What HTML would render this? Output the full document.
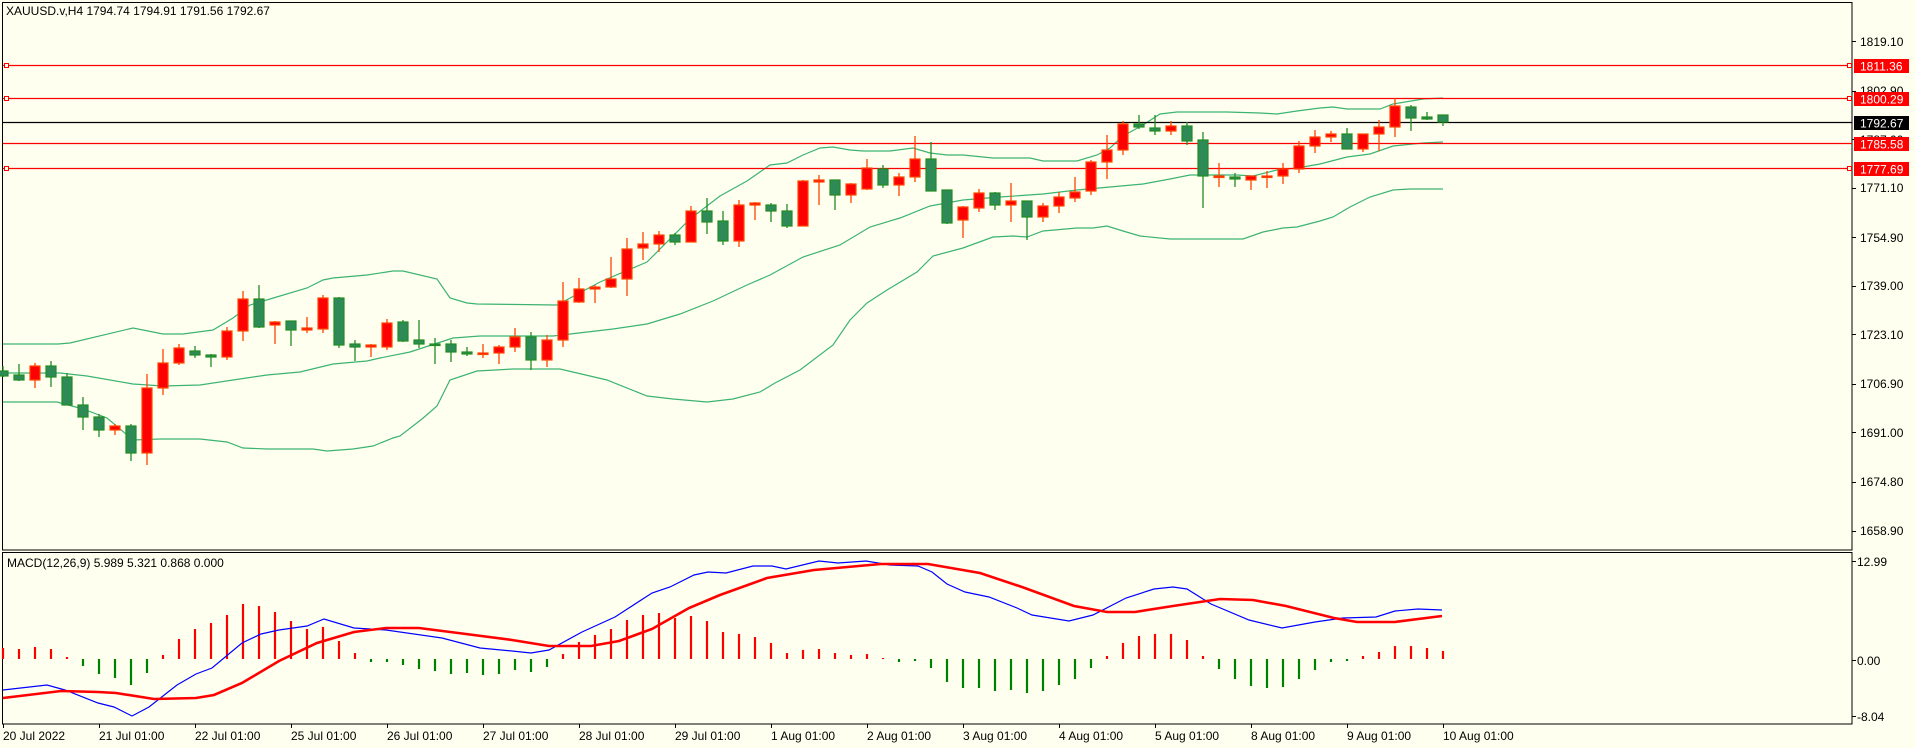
<!DOCTYPE html>
<html><head><meta charset="utf-8"><style>
html,body{margin:0;padding:0;background:#FFFFF0;}
svg{display:block;}
text{font-family:"Liberation Sans",sans-serif;font-size:12px;fill:#000;}
</style></head><body>
<svg width="1916" height="748" viewBox="0 0 1916 748" xmlns="http://www.w3.org/2000/svg">
<rect x="0" y="0" width="1916" height="748" fill="#FFFFF0"/>
<!-- panes -->
<rect x="2.5" y="2.5" width="1849.5" height="547.5" fill="none" stroke="#000" stroke-width="1"/>
<rect x="2.5" y="552.5" width="1849.5" height="171.5" fill="none" stroke="#000" stroke-width="1"/>

<!-- bands -->
<g fill="none" stroke="#3CB371" stroke-width="1.2">
<polyline points="3,344 58,344 70,343 133,328 163,334 183,334 213,330 233,318 250,305 270,299 307,288 323,280 333,278 367,275 393,271 403,271 437,279 450,298 467,303 477,304 557,305 600,282 647,262 690,219 720,196 747,181 770,165 787,163 803,155 820,148 833,147 850,150 863,151 890,151 913,148 930,153 947,155 963,155 993,158 1030,158 1043,161 1077,161 1097,155 1110,148 1123,136 1143,125 1160,114 1177,112 1227,112 1260,113 1277,114 1297,111 1320,108 1333,107 1347,109 1380,109 1393,104 1423,99 1443,98"/>
<polyline points="3,373 60,373 87,376 133,384 163,386 200,385 233,380 267,375 300,372 333,364 367,361 380,358 410,352 453,338 480,336 553,336 613,329 647,324 680,314 713,301 747,285 770,275 803,257 840,245 870,227 900,218 930,206 963,200 1000,197 1043,194 1077,190 1110,187 1143,184 1170,179 1190,175 1237,175 1253,176 1277,170 1297,168 1320,164 1347,157 1370,154 1393,146 1423,143 1443,142"/>
<polyline points="3,402 57,402 83,409 107,418 133,440 160,439 200,439 227,442 243,448 267,449 313,449 327,451 353,449 373,446 393,438 400,436 422,419 437,406 450,380 477,371 513,369 560,369 607,380 647,396 673,399 707,402 733,399 760,392 775,383 800,370 833,345 850,320 867,303 887,290 917,272 933,256 963,248 993,237 1013,236 1027,237 1043,231 1077,228 1093,228 1107,226 1123,231 1140,236 1170,239 1243,239 1263,232 1283,228 1297,227 1320,221 1333,217 1350,207 1370,197 1393,190 1410,189 1443,189"/>
</g>

<!-- horizontal levels -->
<g stroke="#FF0000" stroke-width="1.3">
<line x1="3" y1="65.5" x2="1852" y2="65.5"/>
<line x1="3" y1="98.5" x2="1852" y2="98.5"/>
<line x1="3" y1="143.5" x2="1852" y2="143.5"/>
<line x1="3" y1="168.5" x2="1852" y2="168.5"/>
</g>
<line x1="3" y1="122.5" x2="1852" y2="122.5" stroke="#000" stroke-width="1.3"/>
<g fill="#FFFFF0" stroke="#FF0000" stroke-width="1">
<rect x="4.5" y="63.5" width="4" height="4"/><rect x="1847.5" y="63.5" width="4" height="4"/>
<rect x="4.5" y="96.5" width="4" height="4"/><rect x="1847.5" y="96.5" width="4" height="4"/>
<rect x="4.5" y="166.5" width="4" height="4"/><rect x="1847.5" y="166.5" width="4" height="4"/>
</g>

<!-- candles -->
<g id="c">
<g stroke="#228B22" stroke-width="1.3">
<path d="M3 366V377M19 364V381M51 361V387M67 373V405M83 397V430M99 414V437M131 424V461M195 346V358M211 354V367M259 285V328M291 321V346M339 297V348M355 340V361M403 320V342M419 320V348M435 338V364M451 340V362M467 347V356M531 332V370M675 233V245M707 198V234M723 211V245M771 203V222M787 204V228M835 180V210M883 165V188M931 142V191M947 190V224M995 192V210M1027 201V240M1139 115V129M1155 115V135M1187 122V145M1203 132V208M1235 173V187M1347 128V149M1411 105V131M1427 112V120M1443 115V126"/>
</g>
<g stroke="#FF4500" stroke-width="1.3">
<path d="M35 363V388M115 424V435M147 374V465M163 349V395M179 344V365M227 327V360M243 291V341M275 321V344M307 317V333M323 295V333M371 344V357M387 319V350M483 344V358M499 345V364M515 328V352M547 335V367M563 282V347M579 278V303M595 285V303M611 257V288M627 238V296M643 232V260M659 231V252M691 206V242M739 200V247M755 202V220M803 180V226M819 175V205M851 183V203M867 159V190M899 173V196M915 136V182M963 206V238M979 189V212M1011 183V222M1043 203V222M1059 192V213M1075 177V202M1091 160V195M1107 135V179M1123 121V155M1171 121V135M1219 163V187M1251 176V190M1267 171V188M1283 163V184M1299 141V173M1315 130V153M1331 131V142M1363 134V152M1379 120V151M1395 98V137"/>
</g>
<g fill="#2E8B57" stroke="#228B22" stroke-width="1.2">
<rect x="-2" y="371" width="10" height="5"/>
<rect x="14" y="375" width="10" height="5"/>
<rect x="46" y="366" width="10" height="11"/>
<rect x="62" y="377" width="10" height="28"/>
<rect x="78" y="405" width="10" height="12"/>
<rect x="94" y="417" width="10" height="13"/>
<rect x="126" y="426" width="10" height="27"/>
<rect x="190" y="351" width="10" height="4"/>
<rect x="206" y="355" width="10" height="2"/>
<rect x="254" y="299" width="10" height="28"/>
<rect x="286" y="321" width="10" height="9"/>
<rect x="334" y="298" width="10" height="47"/>
<rect x="350" y="344" width="10" height="3"/>
<rect x="398" y="322" width="10" height="19"/>
<rect x="414" y="340" width="10" height="4"/>
<rect x="430" y="344" width="10" height="1.5"/>
<rect x="446" y="344" width="10" height="8"/>
<rect x="462" y="352" width="10" height="2"/>
<rect x="526" y="337" width="10" height="23"/>
<rect x="670" y="235" width="10" height="7"/>
<rect x="702" y="211" width="10" height="11"/>
<rect x="718" y="221" width="10" height="20"/>
<rect x="766" y="205" width="10" height="6"/>
<rect x="782" y="211" width="10" height="15"/>
<rect x="830" y="180" width="10" height="15"/>
<rect x="878" y="169" width="10" height="16"/>
<rect x="926" y="159" width="10" height="32"/>
<rect x="942" y="190" width="10" height="33"/>
<rect x="990" y="193" width="10" height="12"/>
<rect x="1022" y="201" width="10" height="16"/>
<rect x="1134" y="124" width="10" height="3"/>
<rect x="1150" y="128" width="10" height="3"/>
<rect x="1182" y="126" width="10" height="15"/>
<rect x="1198" y="140" width="10" height="36"/>
<rect x="1230" y="177" width="10" height="2"/>
<rect x="1342" y="134" width="10" height="15"/>
<rect x="1406" y="107" width="10" height="11"/>
<rect x="1422" y="117" width="10" height="2"/>
<rect x="1438" y="115" width="10" height="7"/>
</g>
<g fill="#FF0000" stroke="#FF4500" stroke-width="1.2">
<rect x="30" y="366" width="10" height="14"/>
<rect x="110" y="426" width="10" height="4"/>
<rect x="142" y="388" width="10" height="65"/>
<rect x="158" y="363" width="10" height="25"/>
<rect x="174" y="348" width="10" height="15"/>
<rect x="222" y="331" width="10" height="26"/>
<rect x="238" y="299" width="10" height="32"/>
<rect x="270" y="322" width="10" height="3"/>
<rect x="302" y="328" width="10" height="2"/>
<rect x="318" y="298" width="10" height="31"/>
<rect x="366" y="345" width="10" height="2"/>
<rect x="382" y="323" width="10" height="24"/>
<rect x="478" y="353" width="10" height="1.5"/>
<rect x="494" y="347" width="10" height="6"/>
<rect x="510" y="337" width="10" height="10"/>
<rect x="542" y="340" width="10" height="20"/>
<rect x="558" y="301" width="10" height="39"/>
<rect x="574" y="289" width="10" height="13"/>
<rect x="590" y="287" width="10" height="2"/>
<rect x="606" y="279" width="10" height="8"/>
<rect x="622" y="249" width="10" height="30"/>
<rect x="638" y="244" width="10" height="4"/>
<rect x="654" y="235" width="10" height="9"/>
<rect x="686" y="211" width="10" height="31"/>
<rect x="734" y="205" width="10" height="36"/>
<rect x="750" y="203" width="10" height="2"/>
<rect x="798" y="181" width="10" height="45"/>
<rect x="814" y="180" width="10" height="2"/>
<rect x="846" y="184" width="10" height="11"/>
<rect x="862" y="168" width="10" height="21"/>
<rect x="894" y="177" width="10" height="8"/>
<rect x="910" y="159" width="10" height="18"/>
<rect x="958" y="207" width="10" height="13"/>
<rect x="974" y="193" width="10" height="15"/>
<rect x="1006" y="201" width="10" height="4"/>
<rect x="1038" y="206" width="10" height="11"/>
<rect x="1054" y="197" width="10" height="9"/>
<rect x="1070" y="192" width="10" height="6"/>
<rect x="1086" y="162" width="10" height="29"/>
<rect x="1102" y="150" width="10" height="12"/>
<rect x="1118" y="124" width="10" height="26"/>
<rect x="1166" y="126" width="10" height="5"/>
<rect x="1214" y="176" width="10" height="1.5"/>
<rect x="1246" y="176" width="10" height="4"/>
<rect x="1262" y="176" width="10" height="1.5"/>
<rect x="1278" y="169" width="10" height="7"/>
<rect x="1294" y="146" width="10" height="23"/>
<rect x="1310" y="137" width="10" height="9"/>
<rect x="1326" y="134" width="10" height="3"/>
<rect x="1358" y="134" width="10" height="15"/>
<rect x="1374" y="127" width="10" height="7"/>
<rect x="1390" y="106" width="10" height="21"/>
</g>
</g>

<!-- MACD histogram -->
<path stroke="#FF0000" stroke-width="2.2" fill="none" d="M3 659V648M19 659V649M35 659V647M51 659V649M67 659V657M163 659V655M179 659V639M195 659V629M211 659V623M227 659V615M243 659V604M259 659V606M275 659V612M291 659V621M307 659V629M323 659V627M339 659V641M355 659V653M563 659V654M579 659V642M595 659V635M611 659V629M627 659V620M643 659V615M659 659V613M675 659V618M691 659V616M707 659V621M723 659V632M739 659V634M755 659V637M771 659V643M787 659V653M803 659V650M819 659V649M835 659V653M851 659V655M867 659V654M883 659V658M1107 659V656M1123 659V643M1139 659V636M1155 659V634M1171 659V634M1187 659V640M1203 659V656M1363 659V656M1379 659V652M1395 659V646M1411 659V646M1427 659V648M1443 659V651"/>
<path stroke="#008000" stroke-width="2.2" fill="none" d="M83 659V666M99 659V674M115 659V678M131 659V685M147 659V673M371 659V662M387 659V662M403 659V665M419 659V669M435 659V671M451 659V674M467 659V673M483 659V675M499 659V674M515 659V670M531 659V672M547 659V667M899 659V662M915 659V661M931 659V668M947 659V682M963 659V688M979 659V688M995 659V691M1011 659V690M1027 659V693M1043 659V691M1059 659V685M1075 659V679M1091 659V668M1219 659V669M1235 659V679M1251 659V686M1267 659V688M1283 659V687M1299 659V679M1315 659V670M1331 659V662M1347 659V661"/>
<!-- MACD lines -->
<polyline fill="none" stroke="#0000FF" stroke-width="1.2" points="3,690 47,685 65,690 98,703 114,707 132,716 149,707 177,685 196,674 212,668 242,643 261,634 279,630 307,626 324,619 354,628 386,630 442,638 480,648 512,651 531,653 549,650 582,632 615,617 652,593 670,587 694,575 708,572 726,573 753,566 772,566 786,569 819,561 838,563 866,561 890,565 918,566 932,572 947,584 965,592 989,597 1017,608 1032,615 1069,621 1093,615 1126,598 1154,589 1173,587 1187,589 1211,604 1249,620 1282,628 1315,622 1343,618 1376,617 1395,611 1418,609 1442,610"/>
<polyline fill="none" stroke="#FF0000" stroke-width="2.6" points="3,698 28,695 61,691 98,692 116,693 154,699 196,698 214,695 242,683 279,661 317,643 354,632 386,628 419,628 466,634 512,640 549,646 591,646 619,641 652,629 689,608 720,595 767,578 814,570 881,564 928,564 980,573 1022,587 1074,606 1107,612 1135,612 1173,606 1220,599 1253,600 1286,606 1334,618 1357,622 1395,622 1442,616"/>

<!-- price axis -->
<g stroke="#000" stroke-width="1">
<path d="M1852 41.5h4M1852 91.5h4M1852 139.5h4M1852 188.5h4M1852 237.5h4M1852 286.5h4M1852 334.5h4M1852 384.5h4M1852 432.5h4M1852 482.5h4M1852 531.5h4M1852 561.5h4M1852 660.5h4M1852 716.5h4"/>
</g>
<g>
<text x="1860" y="46">1819.10</text>
<text x="1860" y="95">1802.90</text>
<text x="1860" y="144">1787.00</text>
<text x="1860" y="192">1771.10</text>
<text x="1860" y="242">1754.90</text>
<text x="1860" y="290">1739.00</text>
<text x="1860" y="339">1723.10</text>
<text x="1860" y="388">1706.90</text>
<text x="1860" y="437">1691.00</text>
<text x="1860" y="486">1674.80</text>
<text x="1860" y="535">1658.90</text>
<text x="1857" y="566">12.99</text>
<text x="1857" y="665">0.00</text>
<text x="1857" y="721">-8.04</text>
</g>
<rect x="1854" y="59" width="55" height="14" fill="#FF0000"/>
<text x="1860" y="70.5" style="fill:#fff">1811.36</text>
<rect x="1854" y="92" width="55" height="14" fill="#FF0000"/>
<text x="1860" y="103.5" style="fill:#fff">1800.29</text>
<rect x="1854" y="116" width="55" height="14" fill="#000"/>
<text x="1860" y="127.5" style="fill:#fff">1792.67</text>
<rect x="1854" y="137" width="55" height="14" fill="#FF0000"/>
<text x="1860" y="148.5" style="fill:#fff">1785.58</text>
<rect x="1854" y="162" width="55" height="14" fill="#FF0000"/>
<text x="1860" y="173.5" style="fill:#fff">1777.69</text>

<!-- headers -->
<text x="6" y="15">XAUUSD.v,H4  1794.74 1794.91 1791.56 1792.67</text>
<text x="7" y="567">MACD(12,26,9) 5.989 5.321 0.868 0.000</text>

<!-- time axis -->
<path stroke="#000" stroke-width="1" d="M3.5 724v4M99.5 724v4M195.5 724v4M291.5 724v4M387.5 724v4M483.5 724v4M579.5 724v4M675.5 724v4M771.5 724v4M867.5 724v4M963.5 724v4M1059.5 724v4M1155.5 724v4M1251.5 724v4M1347.5 724v4M1443.5 724v4"/>
<g>
<text x="3" y="740">20 Jul 2022</text>
<text x="99" y="740">21 Jul 01:00</text>
<text x="195" y="740">22 Jul 01:00</text>
<text x="291" y="740">25 Jul 01:00</text>
<text x="387" y="740">26 Jul 01:00</text>
<text x="483" y="740">27 Jul 01:00</text>
<text x="579" y="740">28 Jul 01:00</text>
<text x="675" y="740">29 Jul 01:00</text>
<text x="771" y="740">1 Aug 01:00</text>
<text x="867" y="740">2 Aug 01:00</text>
<text x="963" y="740">3 Aug 01:00</text>
<text x="1059" y="740">4 Aug 01:00</text>
<text x="1155" y="740">5 Aug 01:00</text>
<text x="1251" y="740">8 Aug 01:00</text>
<text x="1347" y="740">9 Aug 01:00</text>
<text x="1443" y="740">10 Aug 01:00</text>
</g>
</svg>
</body></html>
